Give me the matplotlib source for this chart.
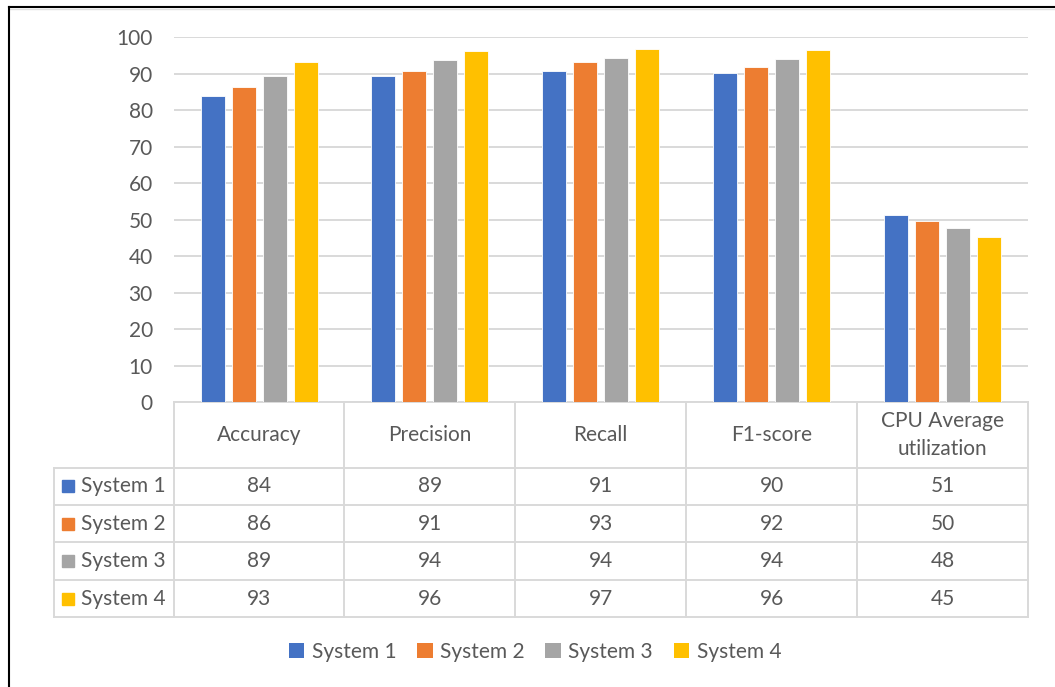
import matplotlib
matplotlib.use("Agg")
import matplotlib.pyplot as plt
from matplotlib.lines import Line2D
from matplotlib.patches import Patch

# ---- data ----
categories = ["Accuracy", "Precision", "Recall", "F1-score", "CPU Average\nutilization"]
series_names = ["System 1", "System 2", "System 3", "System 4"]
system1 = [83.9, 89.2, 90.8, 90.1, 51.2]
system2 = [86.2, 90.8, 93.1, 91.9, 49.6]
system3 = [89.2, 93.7, 94.2, 93.9, 47.6]
system4 = [93.2, 96.2, 96.6, 96.4, 45.3]
y_ticks = [0, 10, 20, 30, 40, 50, 60, 70, 80, 90, 100]

series = [system1, system2, system3, system4]
colors = ["#4472C4", "#ED7D31", "#A5A5A5", "#FFC000"]
text_color = "#595959"
grid_color = "#D9D9D9"

plt.rcParams['font.family'] = ['Lato', 'DejaVu Sans']

W, H = 1055, 687
fig = plt.figure(figsize=(W / 100, H / 100), dpi=100)

ax_left, ax_right = 173.6, 1028.0
ax_top, ax_bottom = 37.0, 402.3
ax = fig.add_axes([ax_left / W, 1 - ax_bottom / H,
                   (ax_right - ax_left) / W, (ax_bottom - ax_top) / H])

ncat = len(categories)
step = 0.1814
width = 0.1405
for j, (vals, col) in enumerate(zip(series, colors)):
    xs = [i + (j - 1.5) * step for i in range(ncat)]
    ax.bar(xs, vals, width=width, color=col, edgecolor="white",
           linewidth=0.6, zorder=3)

ax.set_xlim(-0.5, ncat - 0.5)
ax.set_ylim(0, 100)
ax.set_yticks(y_ticks)
ax.set_xticks([])
ax.tick_params(axis='y', length=0, pad=15, labelsize=15, labelcolor=text_color)
for s in ax.spines.values():
    s.set_visible(False)
ax.yaxis.grid(True, color=grid_color, linewidth=1.4)
ax.set_axisbelow(True)

# ---- data table ----
px_per_unit = (ax_right - ax_left) / ncat
def xd(px):
    return (px - ax_left) / px_per_unit - 0.5
def ya(py):
    return (ax_bottom - py) / (ax_bottom - ax_top)

tr = ax.get_xaxis_transform()
lw_t = 1.4
row_edges = [467.7, 504.7, 542.3, 580.0, 617.3]
x_tab_left = xd(54)

def hline(x0, x1, py):
    ax.add_line(Line2D([x0, x1], [ya(py), ya(py)], transform=tr,
                       color=grid_color, lw=lw_t, clip_on=False, zorder=1))
def vline(x, py0, py1):
    ax.add_line(Line2D([x, x], [ya(py0), ya(py1)], transform=tr,
                       color=grid_color, lw=lw_t, clip_on=False, zorder=1))

hline(-0.5, ncat - 0.5, ax_bottom)
for py in row_edges:
    hline(x_tab_left, ncat - 0.5, py)
for k in range(ncat + 1):
    vline(k - 0.5, ax_bottom, row_edges[-1])
vline(x_tab_left, row_edges[0], row_edges[-1])

# header
hdr_center = (ax_bottom + row_edges[0]) / 2
for i, c in enumerate(categories):
    ax.text(i, ya(hdr_center), c, transform=tr, ha='center', va='center',
            fontsize=15, color=text_color, linespacing=1.45)

# rows
for r, (name, vals, col) in enumerate(zip(series_names, series, colors)):
    yc = ya((row_edges[r] + row_edges[r + 1]) / 2)
    ax.plot([xd(68)], [yc], marker='s', markersize=8.6, color=col,
            transform=tr, clip_on=False, linestyle='none')
    ax.text(xd(81), yc, name, transform=tr, ha='left', va='center',
            fontsize=15, color=text_color)
    for i, v in enumerate(vals):
        ax.text(i, yc, "%d" % round(v), transform=tr, ha='center', va='center',
                fontsize=15, color=text_color)

# ---- legend ----
handles = [Patch(facecolor=c, edgecolor='none') for c in colors]
fig.legend(handles, series_names, loc='center', bbox_to_anchor=(535 / W, 1 - 652 / H),
           ncol=4, frameon=False, fontsize=15, labelcolor=text_color,
           handlelength=0.75, handleheight=0.75, handletextpad=0.35,
           columnspacing=1.0)

# ---- outer frame (top & left) ----
fig.add_artist(Line2D([8.5 / W, 1.0], [1 - 7.3 / H, 1 - 7.3 / H],
                      transform=fig.transFigure, color='black', lw=1.5))
fig.add_artist(Line2D([9 / W, 1.0], [1 - 9.3 / H, 1 - 9.3 / H],
                      transform=fig.transFigure, color='#E0E0E0', lw=1.0))
fig.add_artist(Line2D([8.5 / W, 8.5 / W], [1 - 7.3 / H, 0],
                      transform=fig.transFigure, color='black', lw=1.5))

fig.savefig("out.png", dpi=100)
